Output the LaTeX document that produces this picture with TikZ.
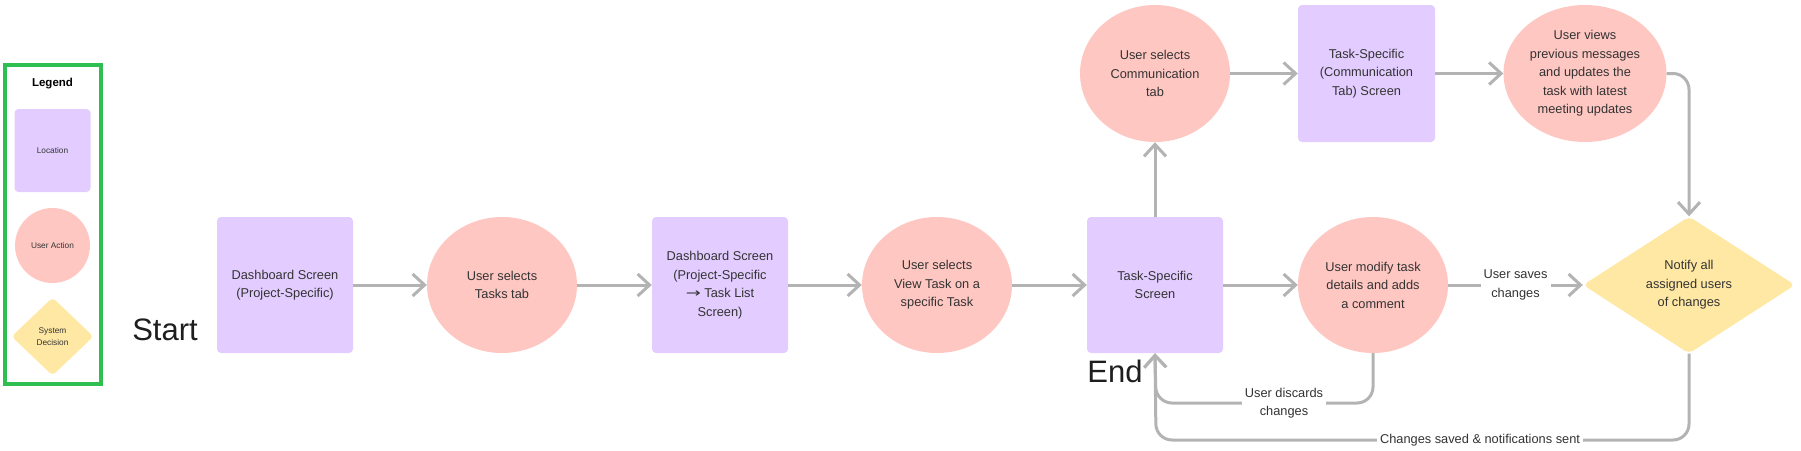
\documentclass[tikz,border=0pt]{standalone}
\usepackage{fontspec}
\setmainfont{Liberation Sans}
\newfontfamily\djv{DejaVu Sans}
\usetikzlibrary{shapes.geometric,arrows.meta}
\definecolor{locfill}{HTML}{E3CCFF}
\definecolor{actfill}{HTML}{FFC7C2}
\definecolor{decfill}{HTML}{FFE8A3}
\definecolor{leggreen}{HTML}{2FBF50}
\definecolor{arrowgray}{HTML}{B3B3B3}
\definecolor{txt}{HTML}{333333}
\definecolor{bigtxt}{HTML}{1E1E1E}
\tikzset{
  every node/.style={text=txt, align=center, inner sep=0pt},
  mainfont/.style={font=\fontsize{12.8}{18.5}\selectfont},
  legfont/.style={font=\fontsize{8.3}{11.7}\selectfont},
  locbox/.style={rectangle, fill=locfill, rounded corners=4pt, mainfont, minimum width=136pt, minimum height=136pt},
  actell/.style={ellipse, fill=actfill, mainfont, minimum width=150pt, minimum height=136pt},
  decdia/.style={diamond, fill=decfill, rounded corners=5pt, mainfont, minimum width=212pt, minimum height=137pt},
  flow/.style={draw=arrowgray, line width=3pt, -{Straight Barb[length=12pt,width=22pt]}},
  elbow/.style={flow, rounded corners=16pt},
  lbl/.style={fill=white, mainfont, inner sep=3pt},
  bigword/.style={text=bigtxt, font=\fontsize{31}{36}\selectfont}
}
\begin{document}
\begin{tikzpicture}[x=1pt,y=-1pt]
\useasboundingbox (0,0) rectangle (1801,450);
% Legend
\draw[leggreen, line width=4pt] (5,65) rectangle (101,384);
\node[text=black, font=\bfseries\fontsize{11.5}{13}\selectfont] (legtitle) at (52.5,84) {Legend};
\node[rectangle, fill=locfill, rounded corners=4pt, legfont, minimum width=76pt, minimum height=83pt] (legloc) at (52.5,150.5) {Location};
\node[circle, fill=actfill, legfont, minimum size=75pt] (legact) at (52.5,245.5) {User Action};
\node[diamond, fill=decfill, rounded corners=4pt, legfont, minimum width=82pt, minimum height=78pt] (legdec) at (52.5,336.5) {System\\Decision};
% Start / End
\node[bigword] (start) at (165,330) {Start};
\node[bigword] (endw) at (1115,371) {End};
% main row
\node[locbox] (b1) at (285,285) {Dashboard Screen\\(Project-Specific)};
\node[actell] (c1) at (502,285) {User selects\\Tasks tab};
\node[locbox] (b2) at (720,285) {Dashboard Screen\\(Project-Specific\\\scalebox{1.4}[1]{\djv →} Task List\\Screen)};
\node[actell] (c2) at (937,285) {User selects\\View Task on a\\specific Task};
\node[locbox] (b3) at (1155,285) {Task-Specific\\Screen};
\node[actell] (c3) at (1373,285) {User modify task\\details and adds\\a comment};
\node[decdia] (d) at (1689,285) {Notify all\\assigned users\\of changes};
% top row
\node[actell, minimum height=137pt] (cc) at (1155,73.5) {User selects\\Communication\\tab};
\node[locbox, minimum width=137pt, minimum height=137pt] (cb) at (1366.5,73.5) {Task-Specific\\(Communication\\Tab) Screen};
\node[actell, minimum width=163pt, minimum height=137pt] (cv) at (1585,73.5) {User views\\previous messages\\and updates the\\task with latest\\meeting updates};
% connectors
\draw[flow] (b1) -- (c1);
\draw[flow] (c1) -- (b2);
\draw[flow] (b2) -- (c2);
\draw[flow] (c2) -- (b3);
\draw[flow] (b3) -- (c3);
\draw[flow] (c3) -- node[lbl] (savelbl) {User saves\\changes} (d);
\draw[flow] (b3.north) -- (cc.south);
\draw[flow] (cc) -- (cb);
\draw[flow] (cb) -- (cv);
\draw[elbow] (cv.east) -| (d.north);
\coordinate (dl) at (1156,403);
\coordinate (bl) at (1156,440);
\draw[elbow] (c3.south) |- (dl) -- (b3.south);
\draw[elbow] (d.south) |- (bl) -- (b3.south);
\node[lbl] (discardlbl) at (1284,403) {User discards\\changes};
\node[lbl, inner ysep=1pt] (notiflbl) at (1480,440) {Changes saved \& notifications sent};
\end{tikzpicture}
\end{document}
